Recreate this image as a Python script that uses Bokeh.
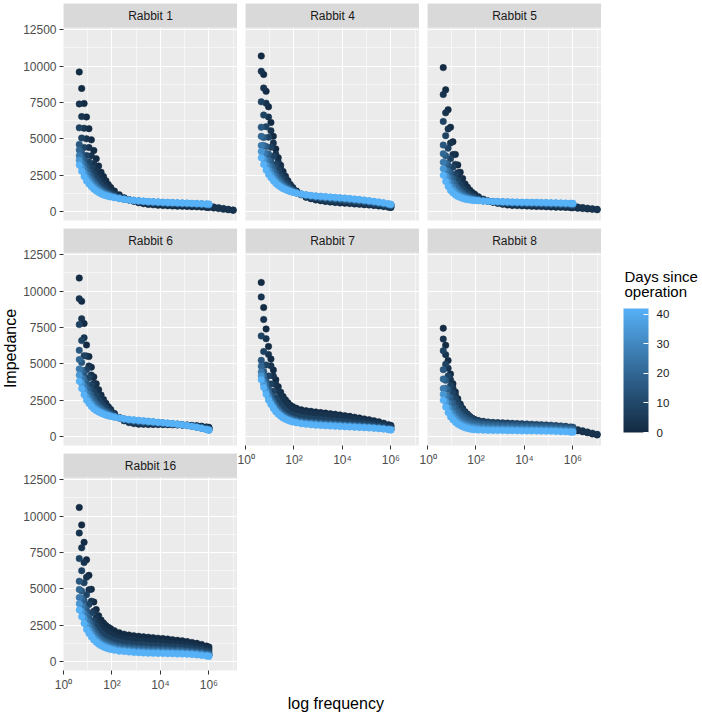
import math
from bokeh.plotting import figure
from bokeh.models import (ColumnDataSource, LinearColorMapper, ColorBar, FixedTicker,
                          Label, BoxAnnotation, Range1d, Grid, CustomJSTickFormatter)
from bokeh.layouts import row, column
from bokeh.transform import transform
from bokeh.embed import file_html
from bokeh.resources import INLINE

# ---------------- data ----------------
FREQ_HZ = [4.47, 5.62, 7.08, 8.91, 11.2, 14.1, 17.8, 22.4, 28.2, 35.5, 44.7, 56.2, 70.8, 89.1,
           126, 200, 316, 501, 794, 1259, 1995, 3162, 5012, 7943, 12589, 19953, 31623, 50119,
           79433, 125893, 199526, 316228, 501187, 794328, 1000000,
           1584893, 2511886, 3981072, 6309573, 10000000]
DAYS = [0, 3, 8, 15, 20, 26, 34, 42]

RABBIT_1 = [
    [9600, 8470, 7430, 6500, 5700, 4930, 4200, 3630, 3130, 2700, 2400, 2120, 1850, 1650, 1410, 1150, 950, 810, 700, 600, 540, 490, 460, 430, 410, 400, 385, 370, 360, 350, 335, 320, 305, 280, 270, 240, 200, 160, 120, 80],
    [7400, 6530, 5730, 5000, 4400, 3830, 3300, 2870, 2500, 2200, 1970, 1760, 1570, 1420, 1250, 1060, 910, 810, 720, 650, 600, 560, 540, 510, 490, 480, 465, 450, 440, 430, 415, 400, 385, 365, 355, 310, 265, 210, 155, 100],
    [5760, 5050, 4410, 3860, 3410, 2990, 2600, 2300, 2040, 1810, 1650, 1500, 1360, 1260, 1130, 990, 880, 810, 740, 690, 640, 610, 590, 570, 550, 540, 525, 515, 500, 490, 475, 460, 445, 425, 415],
    [4610, 4020, 3510, 3070, 2720, 2410, 2120, 1900, 1710, 1540, 1420, 1310, 1220, 1140, 1050, 950, 860, 800, 750, 710, 675, 650, 625, 610, 590, 575, 565, 555, 540, 530, 515, 500, 490, 465, 455],
    [4230, 3680, 3210, 2800, 2500, 2210, 1960, 1770, 1600, 1450, 1340, 1250, 1170, 1100, 1020, 930, 855, 800, 755, 720, 685, 660, 640, 625, 605, 590, 580, 565, 555, 545, 530, 515, 500, 480, 470],
    [3840, 3340, 2910, 2540, 2270, 2020, 1800, 1630, 1490, 1360, 1270, 1190, 1120, 1070, 1000, 910, 850, 800, 760, 725, 695, 670, 655, 640, 620, 605, 590, 580, 570, 555, 545, 530, 515, 495, 485],
    [3520, 3050, 2650, 2320, 2080, 1860, 1670, 1520, 1400, 1290, 1200, 1140, 1080, 1030, 970, 900, 845, 800, 760, 730, 705, 680, 665, 650, 630, 615, 600, 590, 580, 570, 555, 540, 530, 510, 500],
    [3200, 2770, 2400, 2100, 1890, 1700, 1530, 1410, 1300, 1210, 1140, 1090, 1040, 1000, 950, 890, 840, 800, 765, 740, 715, 690, 675, 660, 640, 625, 615, 605, 590, 580, 565, 555, 540, 520, 510],
]
RABBIT_4 = [
    [10700, 9430, 8270, 7200, 6130, 5170, 4300, 3700, 3180, 2750, 2420, 2120, 1850, 1650, 1410, 1160, 980, 880, 800, 740, 690, 650, 620, 590, 570, 545, 520, 495, 470, 445, 410, 380, 340, 300, 280],
    [9650, 8500, 7450, 6500, 5560, 4710, 3940, 3410, 2960, 2570, 2280, 2010, 1780, 1600, 1390, 1160, 1005, 910, 840, 780, 740, 700, 670, 645, 620, 595, 570, 545, 520, 490, 455, 420, 380, 335, 315],
    [7550, 6640, 5830, 5110, 4420, 3790, 3230, 2840, 2500, 2220, 2000, 1800, 1630, 1500, 1350, 1175, 1055, 980, 920, 880, 840, 810, 780, 750, 730, 705, 675, 645, 615, 580, 540, 500, 455, 405, 380],
    [5800, 5090, 4480, 3950, 3460, 3030, 2640, 2360, 2120, 1920, 1770, 1640, 1510, 1420, 1310, 1190, 1100, 1040, 990, 955, 925, 895, 865, 840, 815, 790, 760, 730, 695, 660, 615, 570, 520, 465, 435],
    [5170, 4540, 3990, 3530, 3120, 2760, 2420, 2190, 1990, 1820, 1690, 1580, 1470, 1390, 1300, 1190, 1115, 1060, 1020, 980, 955, 930, 900, 875, 850, 820, 790, 760, 725, 685, 640, 595, 545, 485, 455],
    [4540, 3980, 3500, 3110, 2780, 2480, 2210, 2020, 1850, 1710, 1600, 1510, 1430, 1360, 1280, 1195, 1130, 1080, 1045, 1010, 985, 960, 935, 910, 885, 850, 820, 790, 755, 710, 665, 620, 565, 505, 475],
    [4120, 3600, 3180, 2830, 2550, 2300, 2070, 1900, 1760, 1640, 1550, 1470, 1400, 1340, 1270, 1200, 1140, 1100, 1060, 1030, 1005, 980, 955, 930, 905, 870, 840, 810, 770, 730, 680, 635, 580, 520, 490],
    [3700, 3230, 2850, 2550, 2320, 2110, 1930, 1790, 1670, 1570, 1500, 1430, 1370, 1320, 1260, 1200, 1150, 1110, 1075, 1050, 1025, 1000, 975, 950, 925, 890, 860, 830, 790, 745, 700, 650, 595, 530, 500],
]
RABBIT_5 = [
    [9900, 8370, 7000, 5800, 4800, 3930, 3200, 2700, 2270, 1900, 1670, 1470, 1300, 1180, 1020, 850, 720, 640, 560, 495, 450, 420, 405, 390, 375, 360, 350, 340, 325, 315, 300, 290, 275, 260, 250, 225, 200, 180, 150, 120],
    [8050, 6790, 5680, 4710, 3920, 3240, 2660, 2270, 1930, 1640, 1450, 1300, 1170, 1080, 950, 815, 715, 655, 590, 540, 505, 480, 465, 450, 440, 430, 420, 410, 395, 385, 375, 365, 355, 340, 330, 305, 270, 230, 190, 150],
    [6200, 5220, 4360, 3630, 3040, 2540, 2120, 1830, 1590, 1380, 1250, 1130, 1040, 970, 885, 780, 710, 665, 620, 585, 560, 540, 530, 515, 505, 500, 490, 480, 470, 460, 450, 440, 430, 415, 405],
    [4570, 3830, 3200, 2670, 2270, 1930, 1640, 1450, 1280, 1140, 1050, 980, 920, 875, 815, 755, 705, 675, 650, 625, 605, 595, 585, 570, 565, 560, 550, 540, 535, 525, 515, 505, 495, 485, 475],
    [3980, 3330, 2780, 2320, 1990, 1710, 1470, 1300, 1170, 1060, 990, 925, 875, 840, 790, 740, 700, 680, 660, 640, 620, 610, 600, 590, 585, 580, 570, 560, 555, 550, 540, 530, 520, 510, 500],
    [3390, 2820, 2350, 1970, 1700, 1480, 1290, 1160, 1060, 980, 920, 870, 830, 805, 770, 730, 700, 685, 670, 655, 640, 630, 620, 615, 605, 600, 595, 585, 580, 570, 565, 555, 545, 535, 525],
    [2950, 2450, 2040, 1710, 1490, 1310, 1160, 1060, 980, 915, 870, 830, 800, 780, 755, 720, 700, 690, 680, 665, 655, 645, 635, 630, 620, 615, 610, 600, 600, 590, 580, 570, 560, 550, 540],
    [2500, 2070, 1720, 1450, 1280, 1140, 1030, 960, 900, 850, 815, 790, 770, 755, 740, 715, 700, 690, 685, 675, 670, 660, 650, 645, 640, 635, 630, 620, 615, 605, 600, 590, 580, 570, 560],
]
RABBIT_6 = [
    [10900, 9300, 7770, 6300, 5500, 4770, 4100, 3630, 3220, 2850, 2550, 2280, 2050, 1850, 1590, 1300, 1080, 960, 890, 850, 840, 830, 825, 820, 820, 815, 810, 800, 795, 780, 765, 740, 710, 660, 630],
    [9480, 8100, 6790, 5540, 4850, 4230, 3660, 3260, 2910, 2600, 2350, 2120, 1920, 1750, 1540, 1295, 1110, 1005, 940, 905, 885, 875, 865, 855, 845, 835, 825, 815, 800, 780, 750, 720, 680, 620, 590],
    [7700, 6600, 5560, 4590, 4040, 3550, 3110, 2800, 2520, 2290, 2100, 1920, 1770, 1640, 1470, 1285, 1140, 1060, 1005, 970, 945, 930, 915, 900, 880, 860, 845, 825, 800, 770, 735, 690, 640, 575, 540],
    [5930, 5100, 4340, 3640, 3240, 2880, 2560, 2330, 2140, 1980, 1840, 1720, 1610, 1520, 1410, 1285, 1180, 1115, 1070, 1035, 1010, 985, 960, 935, 915, 890, 865, 835, 805, 765, 715, 665, 605, 530, 490],
    [5290, 4560, 3900, 3300, 2950, 2640, 2360, 2170, 2000, 1870, 1750, 1650, 1560, 1480, 1390, 1280, 1190, 1130, 1090, 1060, 1030, 1005, 980, 950, 925, 900, 870, 840, 800, 760, 710, 655, 590, 510, 470],
    [4650, 4020, 3450, 2960, 2650, 2390, 2160, 2000, 1860, 1750, 1660, 1570, 1500, 1440, 1365, 1280, 1200, 1150, 1115, 1085, 1055, 1025, 995, 965, 935, 910, 880, 845, 800, 755, 700, 645, 575, 495, 455],
    [4230, 3660, 3160, 2730, 2460, 2230, 2030, 1890, 1770, 1680, 1600, 1520, 1460, 1410, 1350, 1280, 1210, 1165, 1130, 1100, 1070, 1040, 1010, 975, 945, 915, 885, 850, 800, 750, 700, 640, 570, 485, 440],
    [3800, 3300, 2870, 2500, 2270, 2070, 1900, 1780, 1680, 1600, 1530, 1470, 1420, 1380, 1330, 1275, 1220, 1180, 1145, 1115, 1080, 1050, 1020, 985, 955, 920, 890, 850, 805, 750, 695, 630, 560, 475, 430],
]
RABBIT_7 = [
    [10600, 8870, 7400, 6200, 5330, 4570, 3900, 3430, 3050, 2750, 2520, 2320, 2150, 2050, 1940, 1835, 1780, 1730, 1690, 1650, 1610, 1570, 1530, 1485, 1435, 1385, 1330, 1275, 1210, 1150, 1080, 1010, 920, 815, 760],
    [9600, 8050, 6730, 5650, 4860, 4170, 3570, 3150, 2800, 2530, 2320, 2140, 1990, 1900, 1795, 1695, 1640, 1590, 1555, 1520, 1480, 1440, 1410, 1365, 1320, 1280, 1230, 1175, 1120, 1060, 1005, 940, 860, 765, 715],
    [6920, 5840, 4920, 4170, 3610, 3120, 2690, 2390, 2140, 1940, 1790, 1660, 1550, 1480, 1390, 1310, 1260, 1220, 1190, 1165, 1130, 1100, 1075, 1045, 1015, 980, 950, 920, 880, 840, 800, 750, 695, 625, 590],
    [5240, 4470, 3800, 3240, 2830, 2460, 2140, 1910, 1720, 1570, 1450, 1350, 1270, 1210, 1140, 1070, 1030, 990, 960, 940, 915, 890, 865, 845, 825, 805, 780, 755, 730, 700, 665, 635, 590, 540, 510],
    [4840, 4140, 3530, 3020, 2640, 2300, 2010, 1800, 1620, 1480, 1370, 1280, 1200, 1150, 1080, 1015, 970, 940, 910, 885, 860, 840, 820, 800, 780, 760, 740, 715, 690, 665, 635, 610, 565, 520, 490],
    [4440, 3810, 3260, 2800, 2450, 2150, 1880, 1690, 1520, 1390, 1290, 1210, 1140, 1090, 1025, 960, 915, 885, 855, 830, 805, 790, 770, 750, 730, 715, 695, 675, 655, 630, 605, 580, 540, 495, 475],
    [4170, 3590, 3080, 2650, 2330, 2040, 1790, 1610, 1460, 1330, 1240, 1160, 1100, 1050, 985, 920, 880, 850, 820, 795, 770, 755, 740, 720, 700, 685, 670, 650, 630, 610, 585, 560, 525, 480, 460],
    [3900, 3370, 2900, 2500, 2200, 1930, 1700, 1530, 1390, 1270, 1180, 1110, 1050, 1000, 945, 880, 840, 810, 780, 760, 735, 720, 705, 690, 670, 655, 640, 625, 610, 590, 565, 540, 510, 470, 450],
]
RABBIT_8 = [
    [7450, 6280, 5230, 4300, 3630, 3070, 2600, 2230, 1930, 1700, 1530, 1380, 1250, 1150, 1060, 980, 900, 835, 785, 745, 715, 690, 675, 660, 640, 625, 610, 595, 580, 560, 545, 530, 505, 475, 460, 395, 325, 255, 180, 110],
    [6700, 5630, 4700, 3900, 3330, 2850, 2450, 2140, 1870, 1650, 1500, 1360, 1240, 1160, 1090, 1025, 960, 910, 875, 850, 825, 810, 795, 780, 760, 745, 730, 715, 700, 680, 665, 640, 610, 570, 550, 470, 390, 310, 230, 150],
    [5900, 4970, 4170, 3500, 3000, 2580, 2250, 1980, 1760, 1580, 1450, 1330, 1220, 1150, 1085, 1040, 1000, 975, 960, 940, 925, 910, 895, 880, 860, 845, 830, 815, 800, 780, 755, 730, 700, 660, 640],
    [4600, 3870, 3230, 2700, 2330, 2020, 1750, 1550, 1380, 1250, 1160, 1080, 1010, 970, 930, 890, 860, 835, 820, 800, 790, 780, 770, 765, 755, 740, 730, 720, 705, 690, 675, 650, 625, 595, 580],
    [3950, 3320, 2770, 2300, 1980, 1710, 1480, 1310, 1170, 1060, 985, 920, 865, 830, 800, 760, 735, 715, 700, 680, 675, 665, 655, 650, 640, 630, 620, 610, 600, 590, 570, 550, 530, 500, 490],
    [3300, 2770, 2300, 1900, 1630, 1400, 1200, 1070, 960, 870, 810, 760, 720, 695, 665, 635, 610, 595, 580, 565, 560, 550, 540, 535, 525, 520, 510, 500, 495, 485, 470, 455, 435, 410, 400],
    [2900, 2400, 1980, 1630, 1390, 1190, 1020, 910, 815, 735, 680, 640, 600, 580, 550, 530, 515, 500, 490, 485, 480, 470, 465, 460, 455, 450, 440, 435, 430, 420, 410, 395, 380, 355, 345],
    [2500, 2030, 1650, 1350, 1150, 980, 850, 750, 670, 600, 555, 515, 480, 460, 440, 430, 420, 410, 405, 405, 400, 395, 390, 385, 385, 380, 375, 370, 365, 355, 345, 335, 320, 300, 290],
]
RABBIT_16 = [
    [10600, 9400, 8200, 7000, 5930, 4970, 4100, 3570, 3150, 2850, 2650, 2480, 2350, 2250, 2120, 1975, 1880, 1815, 1770, 1735, 1700, 1670, 1640, 1605, 1575, 1540, 1500, 1460, 1420, 1370, 1315, 1250, 1170, 1060, 1000],
    [8840, 7820, 6810, 5800, 4930, 4150, 3450, 3010, 2660, 2410, 2240, 2090, 1980, 1890, 1780, 1660, 1580, 1525, 1485, 1450, 1425, 1395, 1365, 1340, 1320, 1290, 1260, 1230, 1195, 1155, 1105, 1050, 980, 890, 840],
    [7080, 6250, 5420, 4600, 3930, 3330, 2790, 2450, 2180, 1970, 1830, 1710, 1610, 1540, 1445, 1345, 1280, 1230, 1195, 1170, 1145, 1120, 1100, 1080, 1060, 1040, 1015, 990, 965, 930, 895, 850, 795, 715, 675],
    [5520, 4850, 4190, 3540, 3050, 2610, 2210, 1950, 1740, 1580, 1470, 1370, 1280, 1220, 1145, 1070, 1020, 975, 945, 920, 900, 880, 865, 850, 835, 820, 800, 785, 765, 740, 710, 675, 630, 565, 530],
    [4960, 4350, 3750, 3160, 2730, 2350, 2000, 1780, 1590, 1440, 1340, 1250, 1170, 1110, 1040, 965, 920, 880, 850, 830, 810, 790, 780, 765, 750, 740, 720, 710, 690, 670, 640, 610, 570, 510, 480],
    [4400, 3840, 3300, 2780, 2410, 2080, 1790, 1600, 1430, 1290, 1200, 1120, 1050, 1000, 930, 860, 820, 790, 760, 740, 720, 700, 690, 680, 670, 655, 645, 635, 620, 600, 575, 545, 510, 460, 430],
    [3980, 3460, 2970, 2490, 2170, 1890, 1640, 1470, 1310, 1190, 1100, 1030, 960, 910, 850, 785, 750, 720, 690, 670, 650, 635, 625, 620, 610, 600, 590, 580, 565, 550, 525, 500, 465, 420, 390],
    [3550, 3080, 2630, 2200, 1930, 1690, 1480, 1330, 1190, 1080, 1000, 930, 870, 825, 770, 710, 680, 650, 620, 600, 585, 570, 560, 555, 545, 540, 530, 520, 510, 495, 475, 450, 420, 375, 350],
]

Y_TICKS = [0, 2500, 5000, 7500, 10000, 12500]
Y_MINOR = [1250, 3750, 6250, 8750, 11250]
X_TICKS = [1, 100, 10000, 1000000]
X_MINOR = [10, 1000, 100000, 10000000]
LEGEND_TICKS = [0, 10, 20, 30, 40]
DAY_MAX = 42

# ---------------- styling ----------------
FONT = "Liberation Sans"
X_LO, X_HI = 1.0, 10 ** 7.18
Y_LO, Y_PANEL_TOP, Y_HI = -619, 12659, 14311   # strip sits above Y_PANEL_TOP


def _hex_to_lab(h):
    r, g, b = [int(h[i:i + 2], 16) / 255 for i in (1, 3, 5)]
    lin = lambda c: c / 12.92 if c <= 0.04045 else ((c + 0.055) / 1.055) ** 2.4
    r, g, b = lin(r), lin(g), lin(b)
    x = (0.4124 * r + 0.3576 * g + 0.1805 * b) / 0.95047
    y = (0.2126 * r + 0.7152 * g + 0.0722 * b)
    z = (0.0193 * r + 0.1192 * g + 0.9505 * b) / 1.08883
    f = lambda t: t ** (1 / 3) if t > 0.008856 else 7.787 * t + 16 / 116
    fx, fy, fz = f(x), f(y), f(z)
    return (116 * fy - 16, 500 * (fx - fy), 200 * (fy - fz))


def _lab_to_hex(L, a, b):
    fy = (L + 16) / 116
    fx, fz = fy + a / 500, fy - b / 200
    finv = lambda t: t ** 3 if t ** 3 > 0.008856 else (t - 16 / 116) / 7.787
    x, y, z = 0.95047 * finv(fx), finv(fy), 1.08883 * finv(fz)
    rgb = (3.2406 * x - 1.5372 * y - 0.4986 * z,
           -0.9689 * x + 1.8758 * y + 0.0415 * z,
           0.0557 * x - 0.2040 * y + 1.0570 * z)
    def gam(c):
        c = max(0.0, min(1.0, c))
        return 12.92 * c if c <= 0.0031308 else 1.055 * c ** (1 / 2.4) - 0.055
    return "#%02x%02x%02x" % tuple(int(round(gam(c) * 255)) for c in rgb)


LOW, HIGH = _hex_to_lab("#132B43"), _hex_to_lab("#56B1F7")
PALETTE = [_lab_to_hex(*[lo + (hi - lo) * i / 255 for lo, hi in zip(LOW, HIGH)]) for i in range(256)]
MAPPER = LinearColorMapper(palette=PALETTE, low=0, high=DAY_MAX)

SUP_JS = """
const sup = {"0":"\u2070","1":"\u00b9","2":"\u00b2","3":"\u00b3","4":"\u2074",
             "5":"\u2075","6":"\u2076","7":"\u2077","8":"\u2078","9":"\u2079"};
const e = Math.round(Math.log10(tick));
return "10" + String(e).split("").map(c => sup[c]).join("");
"""


def drop_grids(p):
    p.center = [r for r in p.center if not isinstance(r, Grid)]


def make_source(rows):
    f, z, d = [], [], []
    for day, vals in zip(DAYS, rows):
        for fr, v in zip(FREQ_HZ, vals):
            f.append(fr)
            z.append(v)
            d.append(day)
    return ColumnDataSource(dict(freq=f, imp=z, day=d))


def panel(name, rows, width, height, left, top, bottom, show_y, show_x):
    p = figure(width=width, height=height, x_axis_type="log",
               x_range=Range1d(X_LO, X_HI), y_range=Range1d(Y_LO, Y_HI),
               x_axis_location="below" if show_x else None,
               y_axis_location="left" if show_y else None,
               output_backend="svg", toolbar_location=None,
               min_border_left=left, min_border_right=0,
               min_border_top=top, min_border_bottom=bottom,
               background_fill_color="#EBEBEB", border_fill_color="white",
               outline_line_color=None)
    drop_grids(p)
    for dim, major, minor in ((0, X_TICKS, X_MINOR), (1, Y_TICKS, Y_MINOR)):
        p.add_layout(Grid(dimension=dim, ticker=FixedTicker(ticks=major, minor_ticks=minor),
                          grid_line_color="white", grid_line_width=1.1,
                          minor_grid_line_color="white", minor_grid_line_width=0.55))
    if show_y:
        p.yaxis[0].ticker = FixedTicker(ticks=Y_TICKS)
    if show_x:
        p.xaxis[0].ticker = FixedTicker(ticks=X_TICKS)
        p.xaxis[0].formatter = CustomJSTickFormatter(code=SUP_JS)
    for ax in list(p.xaxis) + list(p.yaxis):
        ax.axis_line_color = None
        ax.major_tick_line_color = "#333333"
        ax.major_tick_in = 0
        ax.major_tick_out = 4
        ax.minor_tick_line_color = None
        ax.major_label_text_font = FONT
        ax.major_label_text_font_size = "12px"
        ax.major_label_text_color = "#4D4D4D"
        ax.major_label_standoff = 3

    p.scatter(x="freq", y="imp", source=make_source(rows), size=6.5,
              color=transform("day", MAPPER), line_width=0.5)

    p.add_layout(BoxAnnotation(bottom=Y_PANEL_TOP, fill_color="#D9D9D9", fill_alpha=1.0,
                               line_color=None))
    p.add_layout(Label(x=10 ** 3.59, y=(Y_PANEL_TOP + Y_HI) / 2, text=name,
                       text_align="center", text_baseline="middle", text_font=FONT,
                       text_font_size="12px", text_color="#1A1A1A"))
    return p


def blank(width, height, x0, x1, y_bottom, y_top):
    p = figure(width=width, height=height, x_range=Range1d(x0, x1),
               y_range=Range1d(y_bottom, y_top), x_axis_location=None,
               y_axis_location=None, output_backend="svg", toolbar_location=None,
               min_border=0, min_border_left=0, min_border_right=0,
               min_border_top=0, min_border_bottom=0,
               background_fill_color="white", border_fill_color="white",
               outline_line_color=None)
    drop_grids(p)
    return p


# column 1 (with y axis)
f1 = panel("Rabbit 1", RABBIT_1, 217, 228, 43, 3, 8, True, False)
f6 = panel("Rabbit 6", RABBIT_6, 217, 225, 43, 0, 8, True, False)
f16 = panel("Rabbit 16", RABBIT_16, 217, 261, 43, 0, 44, True, True)
# column 2
f4 = panel("Rabbit 4", RABBIT_4, 182, 228, 8, 3, 8, False, False)
f7 = panel("Rabbit 7", RABBIT_7, 182, 247, 8, 0, 30, False, True)
xlab = blank(182, 239, 237, 419, 714, 475)
xlab.add_layout(Label(x=331.5, y=703, text="log frequency", text_align="center",
                      text_baseline="middle", text_font=FONT, text_font_size="16px",
                      text_color="black"))
# column 3
f5 = panel("Rabbit 5", RABBIT_5, 182, 228, 8, 3, 8, False, False)
f8 = panel("Rabbit 8", RABBIT_8, 182, 247, 8, 0, 30, False, True)

# y title
ylab = blank(20, 714, 0, 20, 714, 0)
ylab.add_layout(Label(x=10, y=348, text="Impedance", angle=math.pi / 2, text_align="center",
                      text_baseline="middle", text_font=FONT, text_font_size="16px",
                      text_color="black"))

# legend
leg = blank(101, 714, 601, 702, 714, 0)
leg.add_layout(Label(x=624, y=276, text="Days since", text_align="left",
                     text_baseline="middle", text_font=FONT, text_font_size="15px",
                     text_color="black"))
leg.add_layout(Label(x=624, y=291, text="operation", text_align="left",
                     text_baseline="middle", text_font=FONT, text_font_size="15px",
                     text_color="black"))
cb = ColorBar(color_mapper=MAPPER, location=(22, 282), width=25, height=124, padding=0,
              ticker=FixedTicker(ticks=LEGEND_TICKS), title=None,
              major_label_text_font=FONT, major_label_text_font_size="11.5px",
              major_label_text_color="#1A1A1A", major_tick_line_color="white",
              major_tick_in=5, major_tick_out=0, minor_tick_line_color=None,
              bar_line_color=None, border_line_color=None,
              background_fill_color=None, label_standoff=8)
leg.add_layout(cb)

layout = row(ylab, column(f1, f6, f16), column(f4, f7, xlab), column(f5, f8), leg)

open("out.html", "w").write(file_html(layout, INLINE))
